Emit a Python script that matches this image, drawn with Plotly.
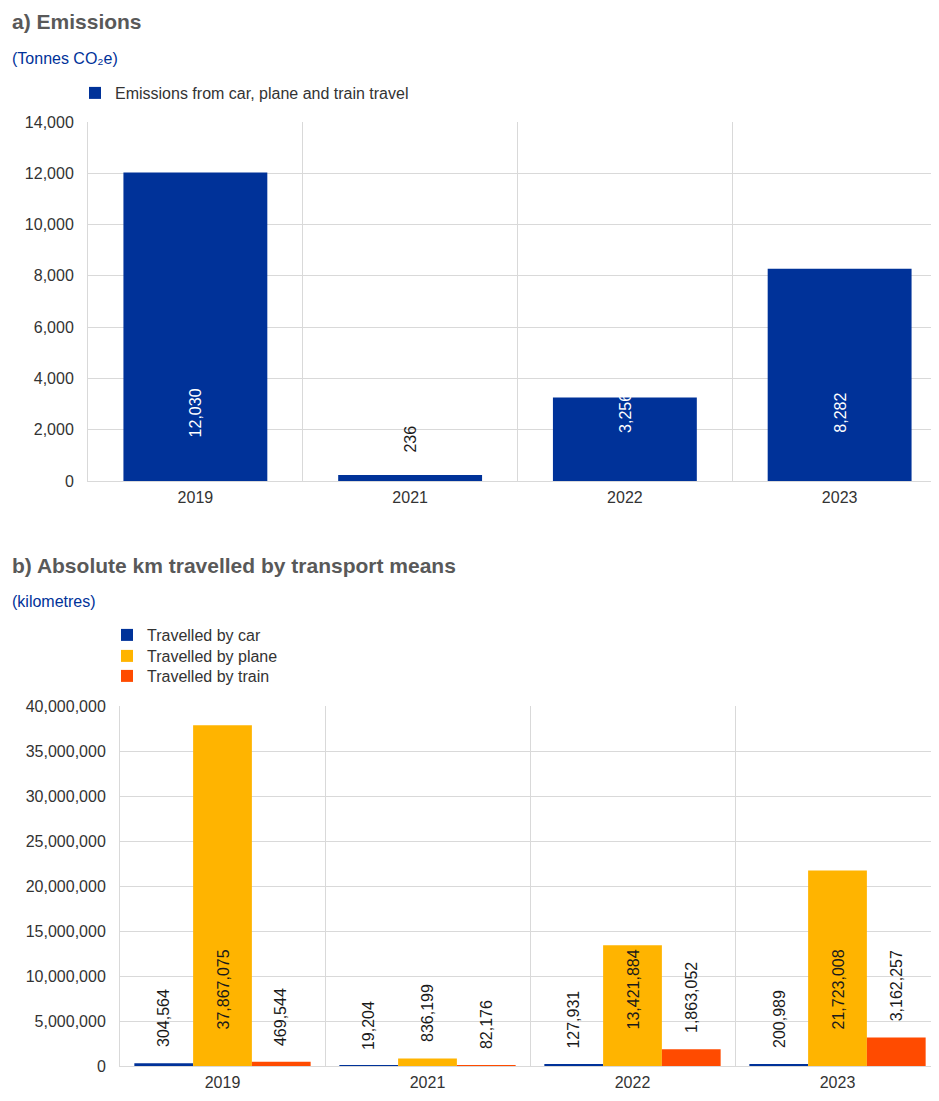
import plotly.graph_objects as go

# ---------------- data ----------------
years = ["2019", "2021", "2022", "2023"]
emissions = [12030, 236, 3256, 8282]
km_car = [304564, 19204, 127931, 200989]
km_plane = [37867075, 836199, 13421884, 21723008]
km_train = [469544, 82176, 1863052, 3162257]

title_a = "a) Emissions"
unit_a = "(Tonnes CO₂e)"
title_b = "b) Absolute km travelled by transport means"
unit_b = "(kilometres)"
name_a = "Emissions from car, plane and train travel"
names_b = ["Travelled by car", "Travelled by plane", "Travelled by train"]

# ---------------- style / layout ----------------
W, H = 939, 1101
OFF = 8  # page body margin
BLUE, YELLOW, ORANGE = "#003299", "#FFB400", "#FF4B00"
FONT = "Liberation Sans, Arial, sans-serif"
TXT = "#333333"
GRID = "#d9d9d9"
TITLE_C = "#595959"
FS = 16

A_LEFT, A_RIGHT = 88, 948
B_LEFT, B_RIGHT = 120, 940
A_TOP, A_BOT = 122, 481
B_TOP, B_BOT = 706, 1066
A_MAX, B_MAX = 14000, 40000000
B_GAP = 0.14


def px_x(p):
    return (p - OFF) / W


def px_y(p):
    return 1 - (p - OFF) / H


fig = go.Figure()
fig.add_bar(x=years, y=emissions, name=name_a, marker=dict(color=BLUE, line=dict(width=0)),
            width=0.67, xaxis="x", yaxis="y", legend="legend", hoverinfo="skip")
legend_names = ["legend2", "legend3", "legend4"]
for vals, nm, col, lg in zip([km_car, km_plane, km_train], names_b, [BLUE, YELLOW, ORANGE], legend_names):
    fig.add_bar(x=years, y=vals, name=nm, marker=dict(color=col, line=dict(width=0)),
                xaxis="x2", yaxis="y2", legend=lg, hoverinfo="skip")

annotations = []
# titles
for txt, ypx, size, bold, col in [(title_a, 22, 21, True, TITLE_C), (unit_a, 58, FS, False, BLUE),
                                  (title_b, 565, 21, True, TITLE_C), (unit_b, 601, FS, False, BLUE)]:
    annotations.append(dict(text=f"<b>{txt}</b>" if bold else txt, x=px_x(10), y=px_y(ypx),
                            xref="paper", yref="paper", xanchor="left", yanchor="middle",
                            showarrow=False, font=dict(family=FONT, size=size, color=col)))

# data labels chart a (x given as category index)
for ci, v in enumerate(emissions):
    inside = v / A_MAX > 0.15
    annotations.append(dict(
        text=f"{v:,}", x=ci, y=0 if inside else v, xref="x", yref="y",
        yanchor="middle" if inside else "bottom", yshift=68 if inside else 20,
        textangle=-90, showarrow=False,
        font=dict(family=FONT, size=FS, color="white" if inside else "#1a1a1a")))

# data labels chart b
barw = (B_RIGHT - B_LEFT) / 4 * (1 - B_GAP) / 3
for i, vals in enumerate([km_car, km_plane, km_train]):
    for ci, v in enumerate(vals):
        inside = v / B_MAX > 0.2
        annotations.append(dict(
            text=f"{v:,}", x=ci, y=0 if inside else v, xref="x2", yref="y2",
            xshift=(i - 1) * barw,
            yanchor="middle" if inside else "bottom", yshift=76 if inside else 14,
            textangle=-90, showarrow=False,
            font=dict(family=FONT, size=FS, color="#1a1a1a")))

xcommon = dict(type="category", tickson="boundaries", showgrid=True, gridcolor=GRID, gridwidth=1,
               ticks="", showline=True, linecolor=GRID, automargin=False, ticklabelstandoff=2,
               tickfont=dict(family=FONT, size=FS, color=TXT), fixedrange=True)
ycommon = dict(showgrid=True, gridcolor=GRID, gridwidth=1, zeroline=True, zerolinecolor=GRID,
               showline=True, linecolor=GRID, mirror=True, tickformat=",", ticks="", automargin=False,
               ticklabelstandoff=10, tickfont=dict(family=FONT, size=FS, color=TXT), fixedrange=True)


def legend_at(xpx, toppx):
    return dict(x=px_x(xpx), y=px_y(toppx), xanchor="left", yanchor="top", bgcolor="rgba(0,0,0,0)",
                font=dict(family=FONT, size=FS, color=TXT), itemclick=False, itemdoubleclick=False)


fig.update_layout(
    template="none",
    width=W, height=H, autosize=False,
    margin=dict(l=0, r=0, t=0, b=0, autoexpand=False),
    paper_bgcolor="white", plot_bgcolor="white",
    barmode="group", bargap=B_GAP, bargroupgap=0,
    font=dict(family=FONT, size=FS, color=TXT),
    xaxis=dict(domain=[px_x(A_LEFT), min(1, px_x(A_RIGHT))], anchor="y", range=[-0.5, 3.5], **xcommon),
    yaxis=dict(domain=[px_y(A_BOT), px_y(A_TOP)], anchor="x", range=[0, A_MAX], dtick=2000, **ycommon),
    xaxis2=dict(domain=[px_x(B_LEFT), min(1, px_x(B_RIGHT))], anchor="y2", range=[-0.5, 3.5], **xcommon),
    yaxis2=dict(domain=[px_y(B_BOT), px_y(B_TOP)], anchor="x2", range=[0, B_MAX], dtick=5000000, **ycommon),
    legend=legend_at(75, 76),
    legend2=legend_at(107, 618),
    legend3=legend_at(107, 639),
    legend4=legend_at(107, 659),
    annotations=annotations,
    showlegend=True,
)

fig.write_html("out.html", config={"displayModeBar": False})
